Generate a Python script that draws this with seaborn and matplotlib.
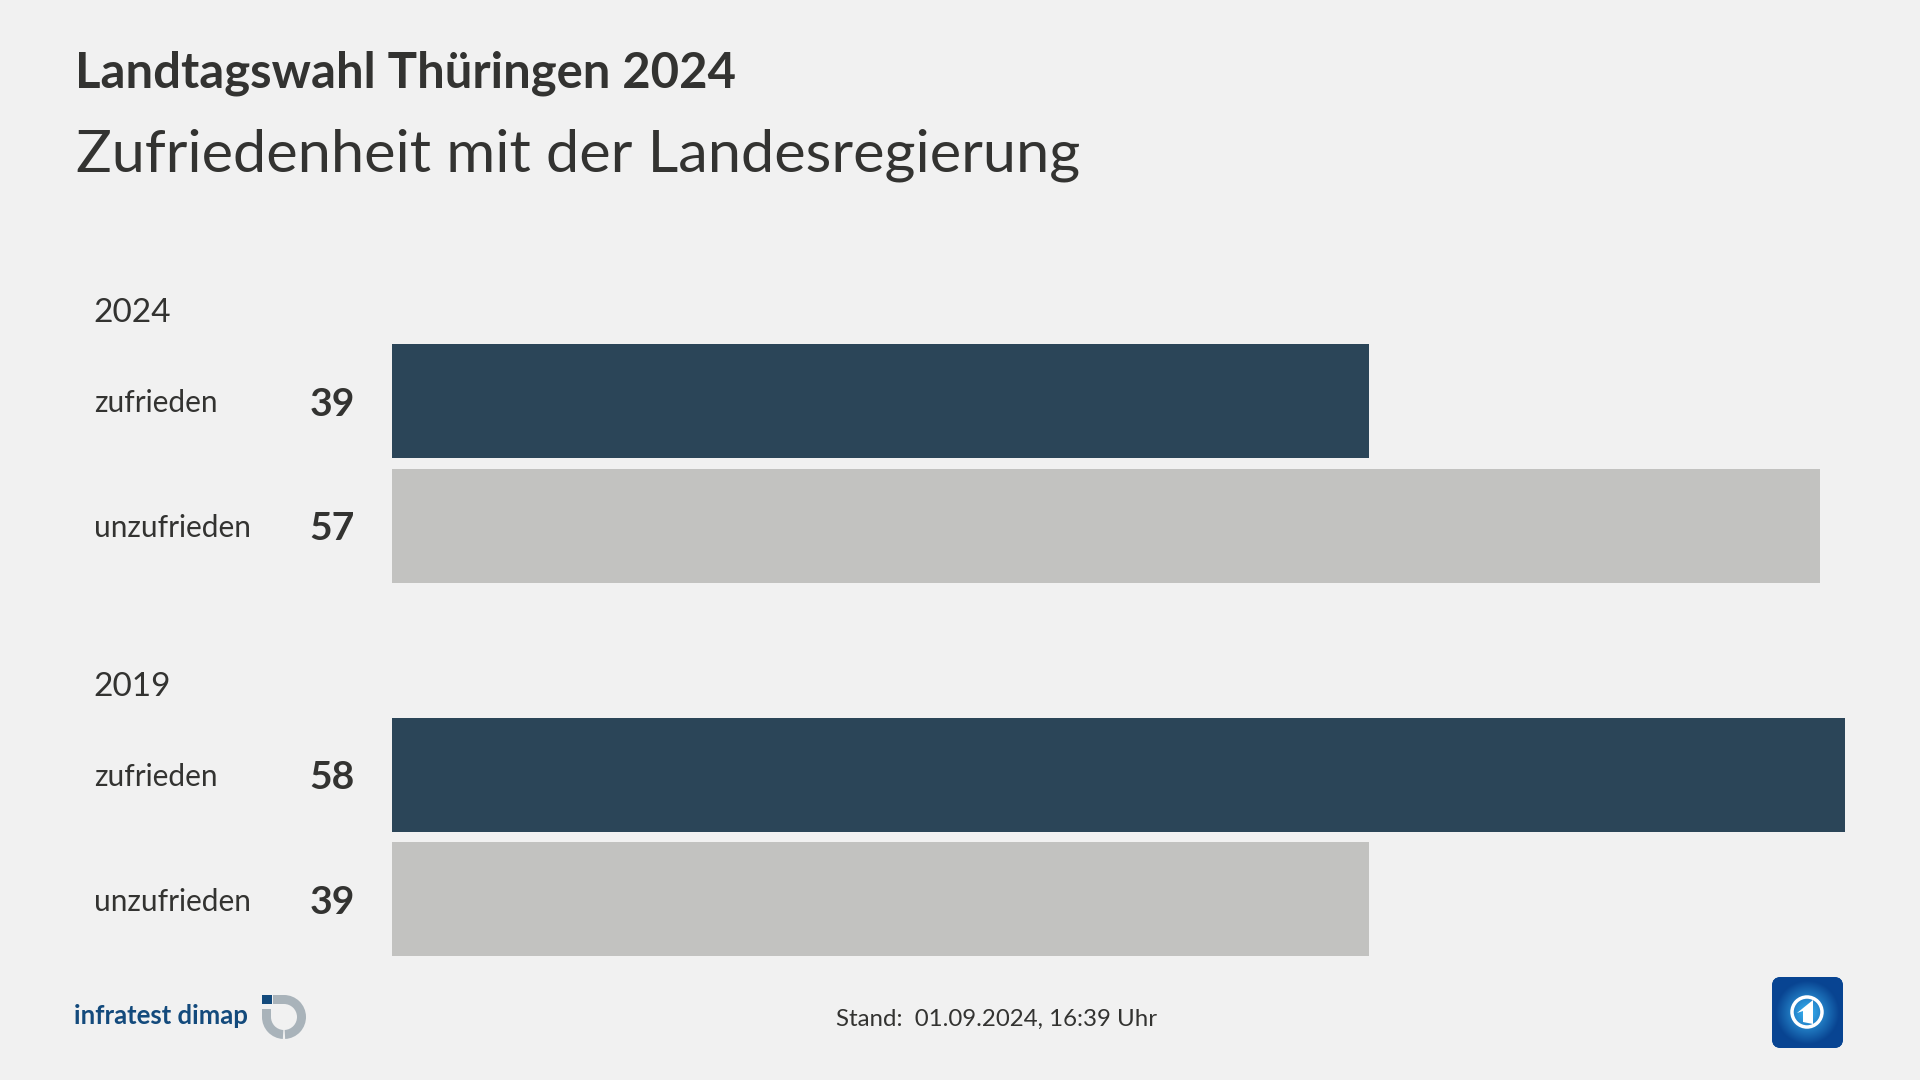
import numpy as np
import pandas as pd
import seaborn as sns
import matplotlib.pyplot as plt
from matplotlib.patches import Wedge, Rectangle, Circle, Polygon, FancyBboxPatch
from matplotlib.transforms import blended_transform_factory

title_top = 'Landtagswahl Thüringen 2024'
title_main = 'Zufriedenheit mit der Landesregierung'
stand = 'Stand:  01.09.2024, 16:39 Uhr'
years = ['2024', '2019']
answers = ['zufrieden', 'unzufrieden', 'zufrieden', 'unzufrieden']
answer_years = ['2024', '2024', '2019', '2019']
values = [39, 57, 58, 39]
row_order = ['2024 zufrieden', '2024 unzufrieden', 'blank', '2019 zufrieden', '2019 unzufrieden']

BG = '#f1f1f1'
TEXT = '#333331'
DARK = '#2b4558'
GREY = '#c2c2c0'
FONT = 'Lato'

sns.set_theme(style='white', rc={'figure.facecolor': BG, 'axes.facecolor': 'none'})
plt.rcParams['font.family'] = [FONT, 'DejaVu Sans']

data = pd.DataFrame({'answer': answers, 'year': answer_years, 'value': values})
data['row'] = data.year + ' ' + data.answer

fig = plt.figure(figsize=(19.2, 10.8), dpi=100, facecolor=BG)

# bars: one axes, empty slot between the two years
ax = fig.add_axes([392 / 1920, 1 - 961.7 / 1080, 1503 / 1920, 623 / 1080])
sns.barplot(ax=ax, data=data, x='value', y='row', hue='answer', order=row_order,
            hue_order=['zufrieden', 'unzufrieden'], palette=[DARK, GREY],
            dodge=False, width=0.915, legend=False, saturation=1, linewidth=0, edgecolor='none')
ax.set_xlim(0, 60)
ax.set_ylim(4.5, -0.5)
ax.axis('off')

# row labels and numbers
trans = blended_transform_factory(fig.transFigure, ax.transData)
for _, r in data.iterrows():
    pos = row_order.index(r.row)
    ax.text(94 / 1920, pos, r.answer, transform=trans, va='center_baseline', ha='left',
            fontsize=21.4, color=TEXT, clip_on=False)
    ax.text(355 / 1920, pos, str(r.value), transform=trans, va='center_baseline', ha='right',
            fontsize=28.2, fontweight='bold', color=TEXT, clip_on=False)

# overlay in pixels for headings and logos
ov = fig.add_axes([0, 0, 1, 1], facecolor='none')
ov.set_xlim(0, 1920)
ov.set_ylim(0, 1080)
ov.axis('off')

def put(x, y, s, **kw):
    ov.text(x, 1080 - y, s, va='baseline', **kw)

put(75, 87, title_top, fontsize=35.3, fontweight='bold', color=TEXT)
put(76, 171, title_main, fontsize=42.8, color=TEXT)
put(93, 322, years[0], fontsize=24, color=TEXT)
put(93, 696, years[1], fontsize=24, color=TEXT)
put(997, 1026, stand, fontsize=17.3, color=TEXT, ha='center')

# infratest dimap logo
LOGO_BLUE = '#134a7c'
LOGO_GREY = '#a9b3ba'
put(74, 1024, 'infratest dimap', fontsize=18.5, color=LOGO_BLUE, fontweight='bold')
cx, cy = 284, 1080 - 1017
ov.add_patch(Wedge((cx, cy), 22, -87, 90, width=9, color=LOGO_GREY, lw=0))
ov.add_patch(Wedge((cx, cy), 22, 180, 267, width=9, color=LOGO_GREY, lw=0))
ov.add_patch(Rectangle((273, 1080 - 1004), 11, 9, color=LOGO_GREY, lw=0))
ov.add_patch(Rectangle((262, 1080 - 1017), 9, 8, color=LOGO_GREY, lw=0))
ov.add_patch(Rectangle((262, 1080 - 1004), 10, 9, color=LOGO_BLUE, lw=0))

# tagesschau logo, corners dark and a lighter globe in the middle
box = FancyBboxPatch((1775, 1080 - 1045), 65, 65, boxstyle='round,pad=3,rounding_size=9',
                     facecolor='#0a4f9e', edgecolor='none')
ov.add_patch(box)
yy, xx = np.mgrid[-1:1:200j, -1:1:200j]
dist = np.hypot(xx, yy)
glow = np.clip(1.05 - dist / 0.9, 0, 1)
glow[dist > 0.9] = 0.06
low = np.array([6, 62, 140]) / 255
high = np.array([55, 175, 240]) / 255
grad = low + glow[..., None] * (high - low)
im = ov.imshow(grad, extent=(1772, 1843, 1080 - 1048, 1080 - 977), origin='lower', aspect='auto', zorder=2)
im.set_clip_path(box)
ov.set_xlim(0, 1920)
ov.set_ylim(0, 1080)
ov.add_patch(Circle((1807, 1080 - 1012), 15, facecolor='none', edgecolor='white', lw=2.5, zorder=3))
ov.add_patch(Polygon([(1797, 1080 - 1013), (1813, 1080 - 1000), (1813, 1080 - 1024),
                      (1803, 1080 - 1022), (1803, 1080 - 1011)], color='white', lw=0, zorder=3))

fig.savefig('out.png', dpi=100, facecolor=BG)
